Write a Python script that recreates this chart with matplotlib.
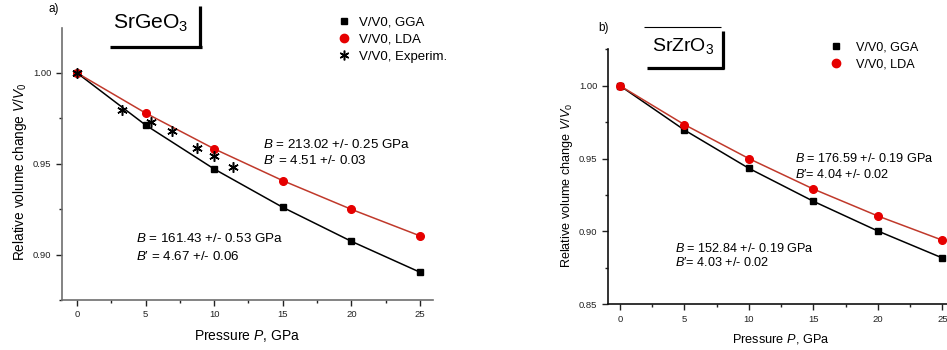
import matplotlib
matplotlib.use("Agg")
import matplotlib.pyplot as plt
from matplotlib.lines import Line2D
from matplotlib.ticker import MultipleLocator

plt.rcParams['font.family'] = ['Liberation Sans', 'DejaVu Sans']
plt.rcParams['mathtext.fontset'] = 'custom'
plt.rcParams['mathtext.rm'] = 'Liberation Sans'
plt.rcParams['mathtext.it'] = 'Liberation Sans:italic'
plt.rcParams['mathtext.bf'] = 'Liberation Sans:bold'

# ---- data: SrGeO3 (panel a) ----
p_calc = [0, 5, 10, 15, 20, 25]
ge_gga = [1.000, 0.9713, 0.9471, 0.9260, 0.9073, 0.8903]
ge_lda = [1.000, 0.9779, 0.9582, 0.9407, 0.9249, 0.9103]
p_exp = [0, 3.25, 5.4, 6.9, 8.76, 10.0, 11.4]
ge_exp = [1.000, 0.9797, 0.9727, 0.9678, 0.9586, 0.9544, 0.9482]

# ---- data: SrZrO3 (panel b) ----
zr_gga = [1.000, 0.9696, 0.9433, 0.9207, 0.9003, 0.8818]
zr_lda = [1.000, 0.9733, 0.9500, 0.9291, 0.9106, 0.8940]

ge_texts = [r"$B$ = 213.02 +/- 0.25 GPa", r"$B$′ = 4.51 +/- 0.03",
            r"$B$ = 161.43 +/- 0.53 GPa", r"$B$′ = 4.67 +/- 0.06"]
zr_texts = [r"$B$ = 176.59 +/- 0.19 GPa", r"$B$′= 4.04 +/- 0.02",
            r"$B$ = 152.84 +/- 0.19 GPa", r"$B$′= 4.03 +/- 0.02"]
legend_labels = ['V/V0, GGA', 'V/V0, LDA', 'V/V0, Experim.']

W, H = 947, 350
fig = plt.figure(figsize=(W / 100, H / 100), dpi=100)

def fx(px):
    return px / W

def fy(py):
    return 1 - py / H

red_line = '#c0392b'
red_mk = '#e60000'

def style_axis(ax, spine_color, xl_size, yl_size):
    for s in ['top', 'right']:
        ax.spines[s].set_visible(False)
    for s in ['left', 'bottom']:
        ax.spines[s].set_color(spine_color)
        ax.spines[s].set_linewidth(1.2)
    ax.tick_params(which='major', direction='out', length=4, width=1,
                   labelsize=6.8, colors='#222222')
    ax.tick_params(which='minor', direction='out', length=2.5, width=1,
                   colors='#222222')
    ax.xaxis.set_major_locator(MultipleLocator(5))
    ax.xaxis.set_minor_locator(MultipleLocator(2.5))
    ax.yaxis.set_major_locator(MultipleLocator(0.05))
    ax.yaxis.set_minor_locator(MultipleLocator(0.025))
    ax.yaxis.set_major_formatter(matplotlib.ticker.FormatStrFormatter('%.2f'))
    ax.set_xlabel(r"Pressure $P$, GPa", fontsize=xl_size, labelpad=6)
    ax.set_ylabel(r"Relative volume change $V/V_0$", fontsize=yl_size, labelpad=6)

def box_line(xs, ys, lw):
    fig.add_artist(Line2D([fx(x) for x in xs], [fy(y) for y in ys],
                          color='black', lw=lw, solid_capstyle='butt'))

mk_handles = [Line2D([], [], ls='none', marker='s', ms=5, color='black'),
              Line2D([], [], ls='none', marker='o', ms=6, color=red_mk),
              Line2D([], [], ls='none', marker=(6, 2, 0), ms=7, mew=1.1, color='black')]

# ---------------- panel a ----------------
ax1 = fig.add_axes([fx(62), fy(300), fx(433 - 62), (300 - 28) / H])
ax1.plot(p_calc, ge_gga, color='black', lw=1.1, marker='s', ms=4.8,
         mfc='black', mec='black', zorder=3)
ax1.plot(p_calc, ge_lda, color=red_line, lw=1.1, marker='o', ms=5.5,
         mfc=red_mk, mec=red_mk, zorder=3)
ax1.plot(p_exp, ge_exp, ls='none', marker=(6, 2, 0), ms=7.5, mew=1.1,
         color='black', zorder=4)
ax1.set_xlim(-1.09, 25.95)
ax1.set_ylim(0.875, 1.0247)
style_axis(ax1, '#6e6e6e', 10, 9.8)
ax1.yaxis.set_label_coords((29 - 62) / (433 - 62), (300 - 172) / (300 - 28))
fig.legend(mk_handles, legend_labels, loc='upper left', bbox_to_anchor=(fx(329), fy(10)),
           frameon=False, fontsize=9.5, handlelength=1.2, handletextpad=0.6,
           labelspacing=0.36, borderpad=0)

A1 = 9.6
fig.text(fx(263), fy(144), ge_texts[0], fontsize=A1, va='center', ha='left')
fig.text(fx(263), fy(161), ge_texts[1], fontsize=A1, va='center', ha='left')
fig.text(fx(136), fy(239), ge_texts[2], fontsize=A1, va='center', ha='left')
fig.text(fx(136), fy(256), ge_texts[3], fontsize=A1, va='center', ha='left')

fig.text(fx(48), fy(9), "a)", fontsize=8.5, va='center', ha='left')
fig.text(fx(151), fy(23), r"SrGeO$_3$", fontsize=15.2, va='center', ha='center')
box_line([110, 201.5], [46.5, 46.5], 2.3)
box_line([200, 200], [6, 47.5], 2.3)

# ---------------- panel b ----------------
ax2 = fig.add_axes([fx(607.7), fy(304.3), fx(954.6 - 607.7), (304.3 - 49.3) / H])
ax2.plot(p_calc, zr_gga, color='black', lw=1.1, marker='s', ms=4.8,
         mfc='black', mec='black', zorder=3, clip_on=False)
ax2.plot(p_calc, zr_lda, color=red_line, lw=1.1, marker='o', ms=5.5,
         mfc=red_mk, mec=red_mk, zorder=3, clip_on=False)
ax2.set_xlim(-0.95, 25.95)
ax2.set_ylim(0.85, 1.025)
style_axis(ax2, '#111111', 9.2, 9.1)
ax2.yaxis.set_label_coords((575 - 607.7) / (954.6 - 607.7), (304.3 - 185) / (304.3 - 49.3))
fig.legend(mk_handles[:2], legend_labels[:2], loc='upper left',
           bbox_to_anchor=(fx(822), fy(35)), frameon=False, fontsize=9.1,
           handlelength=1.2, handletextpad=1.0, labelspacing=0.4, borderpad=0)

A2 = 9.1
fig.text(fx(795), fy(158), zr_texts[0], fontsize=A2, va='center', ha='left')
fig.text(fx(795), fy(174), zr_texts[1], fontsize=A2, va='center', ha='left')
fig.text(fx(675), fy(248), zr_texts[2], fontsize=A2, va='center', ha='left')
fig.text(fx(675), fy(263), zr_texts[3], fontsize=A2, va='center', ha='left')

fig.text(fx(598), fy(28), "b)", fontsize=8.5, va='center', ha='left')
fig.text(fx(683), fy(46), r"SrZrO$_3$", fontsize=14, va='center', ha='center')
box_line([644, 721], [27.3, 27.3], 0.8)
box_line([647, 724], [68.3, 68.3], 2.3)
box_line([722.7, 722.7], [30.5, 69.3], 2.3)

fig.savefig("out.png", dpi=100)
